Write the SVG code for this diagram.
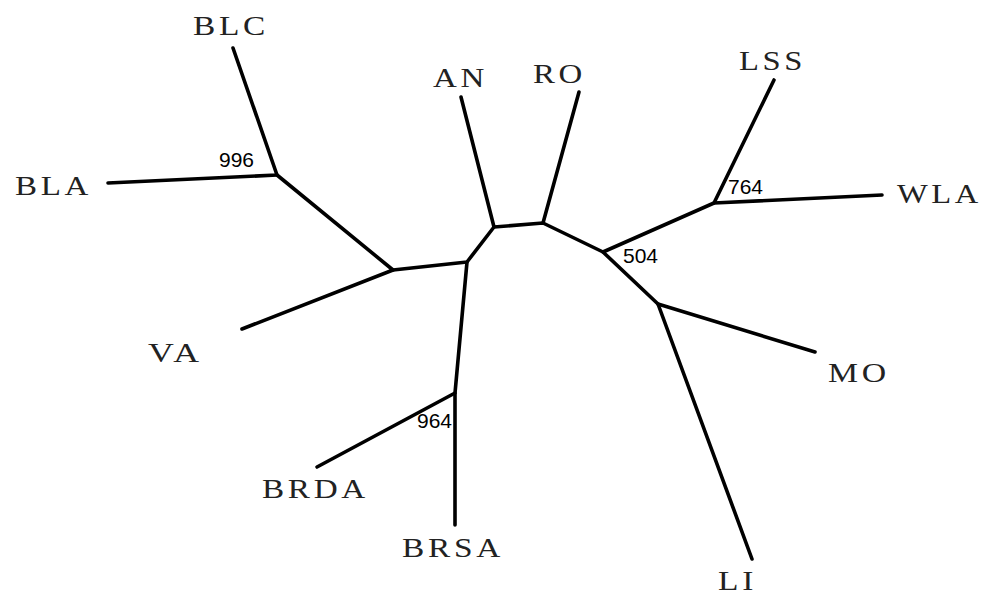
<svg xmlns="http://www.w3.org/2000/svg" width="987" height="596" viewBox="0 0 987 596">
  <style>
    .br { fill: none; stroke: #000; stroke-width: 3.6; stroke-linecap: round; stroke-linejoin: round; }
    .tx { font-family: "Liberation Serif", "Times New Roman", serif; font-size: 27px; letter-spacing: 3px; fill: #222; }
    .bs { font-family: "Liberation Sans", Arial, sans-serif; font-size: 21px; fill: #000; }
  </style>
  <rect width="987" height="596" fill="#fff"/>

  <!-- branches of the unrooted tree -->
  <g id="connectors">
    <polyline class="br" points="233,48 277,175 108,183"/>
    <polyline class="br" points="277,175 393,270 242,329"/>
    <polyline class="br" points="393,270 467,262 494,227 543,223 603,252 658,304 752,559"/>
    <polyline class="br" points="461,97 494,227"/>
    <polyline class="br" points="579,92 543,223"/>
    <polyline class="br" points="603,252 714,203 774,80"/>
    <polyline class="br" points="714,203 882,195"/>
    <polyline class="br" points="658,304 815,352"/>
    <polyline class="br" points="467,262 455,393 455,525"/>
    <polyline class="br" points="455,393 317,467"/>
  </g>

  <!-- taxa -->
  <g id="BLC"><text class="tx" x="193" y="35" textLength="76" lengthAdjust="spacingAndGlyphs">BLC</text></g>
  <g id="BLA"><text class="tx" x="15" y="195" textLength="77" lengthAdjust="spacingAndGlyphs">BLA</text></g>
  <g id="AN"><text class="tx" x="433" y="87" textLength="55" lengthAdjust="spacingAndGlyphs">AN</text></g>
  <g id="RO"><text class="tx" x="533" y="83" textLength="53" lengthAdjust="spacingAndGlyphs">RO</text></g>
  <g id="LSS"><text class="tx" x="739" y="70" textLength="67" lengthAdjust="spacingAndGlyphs">LSS</text></g>
  <g id="WLA"><text class="tx" x="897" y="203" textLength="85" lengthAdjust="spacingAndGlyphs">WLA</text></g>
  <g id="VA"><text class="tx" x="148" y="362" textLength="55" lengthAdjust="spacingAndGlyphs">VA</text></g>
  <g id="MO"><text class="tx" x="828" y="382" textLength="62" lengthAdjust="spacingAndGlyphs">MO</text></g>
  <g id="LI"><text class="tx" x="718" y="590" textLength="39" lengthAdjust="spacingAndGlyphs">LI</text></g>
  <g id="BRDA"><text class="tx" x="262" y="498" textLength="107" lengthAdjust="spacingAndGlyphs">BRDA</text></g>
  <g id="BRSA"><text class="tx" x="402" y="557" textLength="102" lengthAdjust="spacingAndGlyphs">BRSA</text></g>

  <!-- bootstrap support values -->
  <g id="bootstrap">
    <text class="bs" x="219" y="167">996</text>
    <text class="bs" x="728" y="194">764</text>
    <text class="bs" x="623" y="263">504</text>
    <text class="bs" x="417" y="428">964</text>
  </g>
</svg>
